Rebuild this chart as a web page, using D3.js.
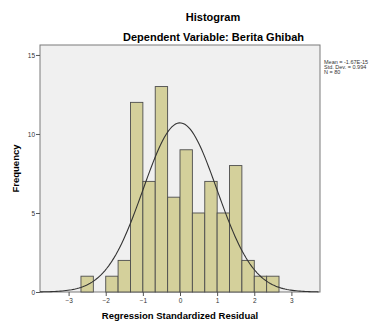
<!DOCTYPE html>
<meta charset="utf-8">
<style>
body { margin: 0; background: #fff; font-family: "Liberation Sans", Arial, sans-serif; }
.bar { fill: #d4d09b; stroke: #4d4d4d; stroke-width: 0.9px; }
.curve { fill: none; stroke: #333; stroke-width: 1.1px; }
.tick text { font-size: 6.5px; fill: #333; }
.tick line, .domain { stroke: #555; }
</style>
<body>
<div id="chart"></div>
<script src="https://d3js.org/d3.v7.min.js"></script>
<script>
// bin edges (lower bound of each bin, width 1/3) and counts
var binStart = [-2.667, -2.333, -2, -1.667, -1.333, -1, -0.667, -0.333, 0, 0.333, 0.667, 1, 1.333, 1.667, 2, 2.333];
var counts   = [1, 0, 1, 2, 12, 7, 13, 6, 9, 5, 7, 5, 8, 2, 1, 1];
var binWidth = 1 / 3;
var xTicks = [-3, -2, -1, 0, 1, 2, 3];
var yTicks = [0, 5, 10, 15];
// summary shown in the legend
var statMean = -1.67e-15, statSd = 0.994, statN = 80;
var statLines = ["Mean = -1.67E-15", "Std. Dev. = 0.994", "N = 80"];

var width = 384, height = 322;
var plot = {left: 40, right: 320, top: 45, bottom: 292};

var svg = d3.select("#chart").append("svg")
    .attr("width", width)
    .attr("height", height);

var x = d3.scaleLinear().domain([-3.77, 3.77]).range([plot.left, plot.right]);
var y = d3.scaleLinear().domain([0, 15.63]).range([plot.bottom, plot.top]);

// plot background
svg.append("rect")
    .attr("x", plot.left)
    .attr("y", plot.top)
    .attr("width", plot.right - plot.left)
    .attr("height", plot.bottom - plot.top)
    .style("fill", "#f0f0f0")
    .style("stroke", "#7a7a7a")
    .style("stroke-width", 1);

// bars
var bins = binStart.map(function(s, i) { return {x0: s, x1: s + binWidth, n: counts[i]}; })
    .filter(function(d) { return d.n > 0; });
svg.selectAll(".bar")
    .data(bins)
  .enter().append("rect")
    .attr("class", "bar")
    .attr("x", function(d) { return x(d.x0); })
    .attr("y", function(d) { return y(d.n); })
    .attr("width", function(d) { return x(d.x1) - x(d.x0); })
    .attr("height", function(d) { return y(0) - y(d.n); });

// fitted normal curve from mean / sd / N
var xs = d3.range(-3.77, 3.7701, 0.05);
var curve = xs.map(function(v) {
  var z = (v - statMean) / statSd;
  return [v, statN * binWidth * Math.exp(-0.5 * z * z) / (statSd * Math.sqrt(2 * Math.PI))];
});
svg.append("path")
    .datum(curve)
    .attr("class", "curve")
    .attr("d", d3.line()
        .x(function(d) { return x(d[0]); })
        .y(function(d) { return y(d[1]); }));

// axes
svg.append("g")
    .attr("transform", "translate(0," + plot.bottom + ")")
    .call(d3.axisBottom(x).tickValues(xTicks).tickSize(4).tickPadding(2))
    .call(function(g) { g.select(".domain").remove(); });
svg.append("g")
    .attr("transform", "translate(" + plot.left + ",0)")
    .call(d3.axisLeft(y).tickValues(yTicks).tickSize(4).tickPadding(1))
    .call(function(g) { g.select(".domain").remove(); });

// titles
svg.append("text")
    .attr("x", 213).attr("y", 20.5)
    .style("text-anchor", "middle")
    .style("font-size", "11px").style("font-weight", "bold")
    .text("Histogram");
svg.append("text")
    .attr("x", 213.5).attr("y", 41)
    .style("text-anchor", "middle")
    .style("font-size", "11px").style("font-weight", "bold")
    .text("Dependent Variable: Berita Ghibah");
svg.append("text")
    .attr("x", 180).attr("y", 319)
    .style("text-anchor", "middle")
    .style("font-size", "9.5px").style("font-weight", "bold")
    .text("Regression Standardized Residual");
svg.append("text")
    .attr("transform", "translate(18.5," + ((plot.top + plot.bottom) / 2) + ") rotate(-90)")
    .style("text-anchor", "middle")
    .style("font-size", "9.5px").style("font-weight", "bold")
    .text("Frequency");

// legend
svg.selectAll(".stat")
    .data(statLines)
  .enter().append("text")
    .attr("class", "stat")
    .attr("x", 324)
    .attr("y", function(d, i) { return 63.5 + i * 5.2; })
    .style("font-size", "5.5px")
    .style("fill", "#333")
    .text(function(d) { return d; });
</script>
</body>
